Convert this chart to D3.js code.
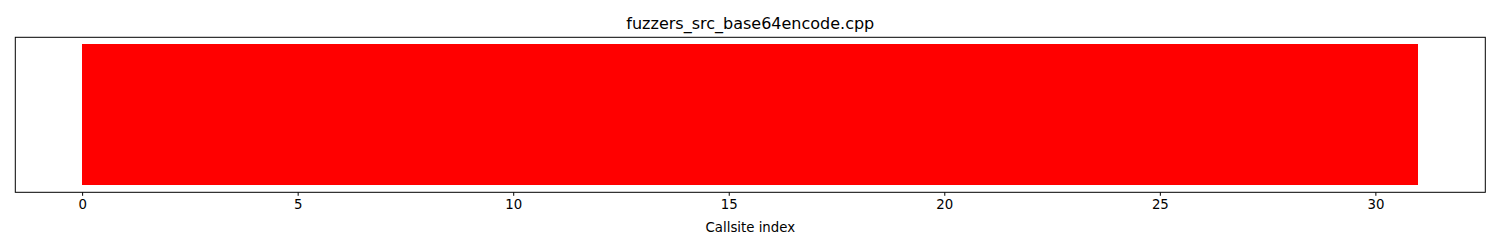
<!DOCTYPE html>
<head>
    <title>fuzzers_src_base64encode.cpp</title>
    <script src="https://d3js.org/d3.v7.min.js"></script>
    <style>
        body { margin: 0; background: white; }
        text { font-family: "DejaVu Sans", sans-serif; fill: black; }
    </style>
</head>
<body>
    <svg id="chart" width="1500" height="250"></svg>
    <script>
        // one bar per callsite, all the same colour (not hit)
        var callsites = d3.range(31);
        var hits = callsites.map(function () { return 1; });
        var colours = callsites.map(function () { return "red"; });
        var xTicks = [0, 5, 10, 15, 20, 25, 30];

        var svg = d3.select("#chart");
        // note: "top" is reserved on window, so use plot* names
        var plotLeft = 15.3, plotRight = 1485.3, plotTop = 37.3, plotBottom = 192.3;

        var x = d3.scaleLinear().domain([-1.55, 32.55]).range([plotLeft, plotRight]);
        var y = d3.scaleLinear().domain([-0.05, 1.05]).range([plotBottom, plotTop]);

        svg.append("g")
            .selectAll("rect")
            .data(callsites)
            .enter().append("rect")
            .attr("x", function (d) { return x(d); })
            .attr("width", function (d, i) { return x(d + 1) - x(d) + (i < callsites.length - 1 ? 1 : 0); })
            .attr("y", function (d, i) { return y(hits[i]); })
            .attr("height", function (d, i) { return y(0) - y(hits[i]); })
            .attr("fill", function (d, i) { return colours[i]; })
            .attr("shape-rendering", "crispEdges");

        // frame
        svg.append("rect")
            .attr("x", plotLeft).attr("y", plotTop)
            .attr("width", plotRight - plotLeft).attr("height", plotBottom - plotTop)
            .attr("fill", "none").attr("stroke", "black").attr("stroke-width", 1);

        var xAxis = svg.append("g")
            .attr("transform", "translate(0," + plotBottom + ")")
            .call(d3.axisBottom(x).tickValues(xTicks).tickSize(3.5).tickPadding(3.5));
        xAxis.select(".domain").remove();
        xAxis.selectAll("text").style("font-size", "13.3px").style("font-family", "DejaVu Sans");
        xAxis.selectAll("line").attr("stroke-width", 1);

        svg.append("text")
            .attr("x", (plotLeft + plotRight) / 2).attr("y", 232)
            .attr("text-anchor", "middle")
            .style("font-size", "13.3px")
            .text("Callsite index");

        svg.append("text")
            .attr("x", (plotLeft + plotRight) / 2).attr("y", 29)
            .attr("text-anchor", "middle")
            .style("font-size", "16px")
            .text("fuzzers_src_base64encode.cpp");
    </script>
</body>
